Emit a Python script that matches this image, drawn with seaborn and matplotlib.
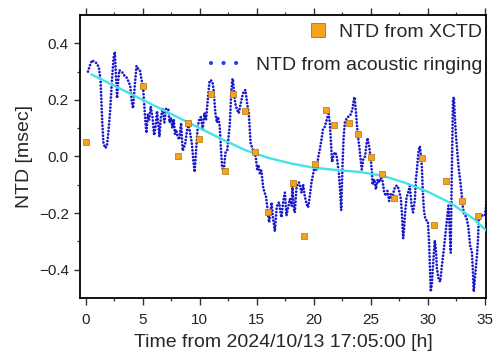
import numpy as np
import pandas as pd
import matplotlib
matplotlib.use("Agg")
import matplotlib.pyplot as plt
from matplotlib.lines import Line2D
import seaborn as sns

# ---- data ----
xctd_t = [0.0, 5.0, 8.1, 9.0, 9.9, 11.0, 12.2, 12.9, 14.0, 14.8, 16.0, 18.2, 19.1,
          20.1, 21.1, 21.8, 23.1, 23.9, 25.0, 26.0, 27.0, 29.5, 30.5, 31.6, 33.0, 34.4]
xctd_v = [0.05, 0.25, 0.0, 0.12, 0.063, 0.22, -0.05, 0.22, 0.16, 0.015, -0.197, -0.095, -0.28,
          -0.025, 0.165, 0.112, 0.12, 0.08, -0.003, -0.063, -0.147, -0.004, -0.242, -0.088, -0.158, -0.21]

ring_t = [0.2, 0.35, 0.55, 0.75, 0.95, 1.15, 1.3, 1.45, 1.55, 1.7, 1.85, 2.0, 2.13, 2.3, 2.45, 2.55,
          2.65, 2.75, 2.85, 2.95, 3.1, 3.27, 3.4, 3.57, 3.75, 3.9, 4.05, 4.15, 4.3, 4.45, 4.6, 4.75,
          4.9, 5.03, 5.2, 5.32, 5.45, 5.56, 5.7, 5.85, 6.0, 6.14, 6.25, 6.35, 6.46, 6.6, 6.75, 6.9,
          7.05, 7.25, 7.35, 7.49, 7.6, 7.72, 7.82, 7.92, 8.05, 8.2, 8.36, 8.5, 8.71, 8.89, 9.0, 9.1,
          9.3, 9.45, 9.55, 9.68, 9.82, 9.95, 10.1, 10.26, 10.4, 10.55, 10.7, 10.85, 10.95, 11.1, 11.2,
          11.37, 11.5, 11.6, 11.75, 11.85, 11.96, 12.1, 12.25, 12.4, 12.55, 12.63, 12.75, 12.84, 12.9,
          13.04, 13.15, 13.27, 13.42, 13.55, 13.71, 13.85, 14.0, 14.15, 14.3, 14.45, 14.6, 14.74, 14.9,
          15.03, 15.15, 15.26, 15.4, 15.56, 15.7, 15.8, 15.95, 16.08, 16.2, 16.29, 16.43, 16.58, 16.73,
          16.85, 16.96, 17.08, 17.17, 17.3, 17.46, 17.6, 17.75, 17.9, 18.04, 18.13, 18.25, 18.33, 18.48,
          18.6, 18.7, 18.82, 18.92, 19.06, 19.2, 19.36, 19.5, 19.65, 19.8, 19.9, 20.05, 20.2, 20.4,
          20.55, 20.67, 20.8, 20.96, 21.1, 21.2, 21.3, 21.4, 21.5, 21.6, 21.7, 21.84, 21.99, 22.1, 22.2,
          22.3, 22.4, 22.5, 22.6, 22.72, 22.86, 23.0, 23.1, 23.25, 23.4, 23.5, 23.57, 23.7, 23.8, 23.9,
          24.0, 24.1, 24.2, 24.33, 24.5, 24.6, 24.7, 24.85, 25.0, 25.1, 25.15, 25.3, 25.44, 25.6, 25.73,
          25.88, 26.0, 26.17, 26.32, 26.46, 26.6, 26.75, 26.9, 27.04, 27.2, 27.34, 27.5, 27.63, 27.72,
          27.83, 27.92, 28.0, 28.13, 28.25, 28.42, 28.57, 28.7, 28.86, 28.95, 29.04, 29.18, 29.3, 29.4,
          29.47, 29.55, 29.65, 29.77, 29.9, 30.0, 30.1, 30.18, 30.25, 30.35, 30.45, 30.6, 30.7, 30.79,
          30.93, 31.08, 31.23, 31.37, 31.52, 31.67, 31.8, 31.9, 32.0, 32.1, 32.2, 32.28, 32.35, 32.45,
          32.55, 32.65, 32.75, 32.85, 32.95, 33.05, 33.15, 33.3, 33.4, 33.55, 33.7, 33.86, 33.95, 34.02,
          34.15, 34.3, 34.4, 34.45, 34.6, 34.74, 35.0, 35.18]
ring_v = [0.30, 0.32, 0.34, 0.335, 0.33, 0.315, 0.27, 0.12, 0.05, 0.03, 0.035, 0.09, 0.155, 0.27, 0.35, 0.37,
          0.29, 0.206, 0.27, 0.305, 0.30, 0.295, 0.285, 0.28, 0.265, 0.25, 0.19, 0.17, 0.25, 0.32, 0.31, 0.305,
          0.27, 0.245, 0.14, 0.083, 0.15, 0.13, 0.176, 0.14, 0.075, 0.11, 0.16, 0.12, 0.07, 0.14, 0.17, 0.12,
          0.17, 0.165, 0.12, 0.136, 0.10, 0.13, 0.08, 0.095, 0.07, 0.06, 0.118, 0.02, 0.042, 0.095, 0.11, 0.095,
          0.048, -0.02, -0.055, 0.025, 0.106, 0.13, 0.14, 0.095, 0.153, 0.13, 0.20, 0.265, 0.27, 0.265, 0.24,
          0.153, 0.12, 0.14, 0.106, 0.03, -0.04, -0.05, 0.013, 0.02, 0.08, 0.112, 0.22, 0.27, 0.275,
          0.21, 0.18, 0.165, 0.153, 0.18, 0.21, 0.23, 0.235, 0.188, 0.153, 0.048, 0.03, 0.013, 0.0,
          -0.046, -0.03, -0.06, -0.05, -0.11, -0.13, -0.14, -0.19, -0.233, -0.20, -0.163, -0.221, -0.265, -0.186,
          -0.165, -0.163, -0.20, -0.215, -0.163, -0.128, -0.209, -0.18, -0.15, -0.174, -0.104, -0.186, -0.198, -0.11,
          -0.095, -0.092, -0.11, -0.128, -0.098, -0.139, -0.168, -0.18, -0.139, -0.09, -0.07, -0.04, -0.05, 0.0,
          0.03, 0.06, 0.095, 0.105, 0.125, 0.14, 0.15, 0.12, 0.05, -0.02, 0.0, 0.015, 0.005, -0.03, -0.06,
          -0.12, -0.19, -0.05, 0.06, 0.12, 0.133, 0.14, 0.141, 0.15, 0.17, 0.20, 0.21, 0.153, 0.10, 0.06,
          0.03, -0.01, -0.046, -0.011, 0.001, 0.04, 0.065, 0.036, -0.011, -0.06, -0.10, -0.081, -0.116, -0.081, -0.092,
          -0.075, -0.08, -0.128, -0.139, -0.122, -0.157, -0.133, -0.145, -0.116, -0.104, -0.104, -0.125, -0.151, -0.20,
          -0.29, -0.25, -0.20, -0.145, -0.13, -0.104, -0.174, -0.198, -0.151, -0.08, -0.046, 0.02, 0.036, 0.0,
          -0.034, -0.12, -0.19, -0.221, -0.227, -0.23, -0.30, -0.40, -0.478, -0.45, -0.385, -0.297, -0.33, -0.396,
          -0.432, -0.443, -0.385, -0.338, -0.28, -0.221, -0.174, -0.25, -0.34, -0.05, 0.20, 0.21, 0.15, 0.08,
          0.03, -0.02, -0.06, -0.09, -0.13, -0.175, -0.20, -0.21, -0.22, -0.25, -0.315, -0.338, -0.41, -0.478,
          -0.42, -0.35, -0.29, -0.221, -0.21, -0.209, -0.209, -0.15]

trend_t = [0.5, 3.0, 6.0, 9.0, 12.0, 14.0, 16.0, 18.0, 20.0, 22.0, 24.0, 26.0, 28.0, 30.0, 32.0, 34.0, 35.2]
trend_v = [0.29, 0.24, 0.18, 0.12, 0.06, 0.022, -0.005, -0.025, -0.04, -0.048, -0.055, -0.068, -0.093,
           -0.125, -0.165, -0.22, -0.265]

xlabel = "Time from 2024/10/13 17:05:00 [h]"
ylabel = "NTD [msec]"
label_xctd = "NTD from XCTD"
label_ring = "NTD from acoustic ringing"

blue = "#1a1ac8"
cyan = "#45e2ea"
orange = "#f5a31a"

# ---- plotting ----
sns.set_theme(style="ticks")
plt.rcParams["font.family"] = ["Liberation Sans", "DejaVu Sans"]
plt.rcParams["axes.linewidth"] = 1.3

fig = plt.figure(figsize=(4.97, 3.58), dpi=100)
ax = fig.add_axes([0.161, 0.168, 0.817, 0.790])

ring_df = pd.DataFrame({"t": ring_t, "v": ring_v})
trend_df = pd.DataFrame({"t": trend_t, "v": trend_v})
xctd_df = pd.DataFrame({"t": xctd_t, "v": xctd_v})

sns.lineplot(data=ring_df, x="t", y="v", ax=ax, color=blue, estimator=None, sort=False,
             linewidth=2.0, linestyle=(0, (0.01, 1.2)), dash_capstyle="round", zorder=2)
sns.lineplot(data=trend_df, x="t", y="v", ax=ax, color=cyan, estimator=None, sort=False,
             linewidth=1.7, zorder=3)
sns.scatterplot(data=xctd_df, x="t", y="v", ax=ax, marker="s", s=24, color=orange,
                edgecolor="#b0730c", linewidth=0.5, zorder=4)

ax.set_xlim(-0.5, 35.1)
ax.set_ylim(-0.5, 0.5)
ax.set_xticks([0, 5, 10, 15, 20, 25, 30, 35])
ax.set_xticks(np.arange(2.5, 35, 5), minor=True)
ax.set_yticks([-0.4, -0.2, 0.0, 0.2, 0.4])
ax.set_yticks([-0.3, -0.1, 0.1, 0.3], minor=True)
ax.set_yticklabels(["\u22120.4", "\u22120.2", "0.0", "0.2", "0.4"])

ax.tick_params(axis="both", which="major", labelsize=11, length=4, width=1.0, color="#333333",
               labelcolor="#222222", pad=4)
ax.tick_params(axis="both", which="minor", length=2.5, width=0.9, color="#333333")
ax.tick_params(axis="x", which="both", top=True, labeltop=False)
ax.tick_params(axis="x", which="major", length=5, pad=6)
ax.tick_params(axis="y", which="both", right=False)
for s in ax.spines.values():
    s.set_visible(True)
    s.set_color("black")

ax.set_xlabel(xlabel, fontsize=14, labelpad=5)
ax.set_ylabel(ylabel, fontsize=14, labelpad=4)

h1 = Line2D([], [], linestyle="none", marker="s", markersize=10, markerfacecolor=orange,
            markeredgecolor="#b0730c", markeredgewidth=0.6)
h2 = Line2D([], [], color="#1f3cff", linewidth=3.0, linestyle=(0, (0.01, 3.0)),
            dash_capstyle="round")
leg1 = ax.legend([h1], [label_xctd], loc="center right", bbox_to_anchor=(0.99, 0.94),
                 frameon=False, fontsize=14, borderpad=0, borderaxespad=0,
                 handlelength=1.0, handletextpad=0.6)
ax.add_artist(leg1)
ax.legend([h2], [label_ring], loc="center right", bbox_to_anchor=(0.99, 0.823),
          frameon=False, fontsize=14, borderpad=0, borderaxespad=0,
          handlelength=1.6, handletextpad=0.7)

fig.savefig("out.png", dpi=100)
